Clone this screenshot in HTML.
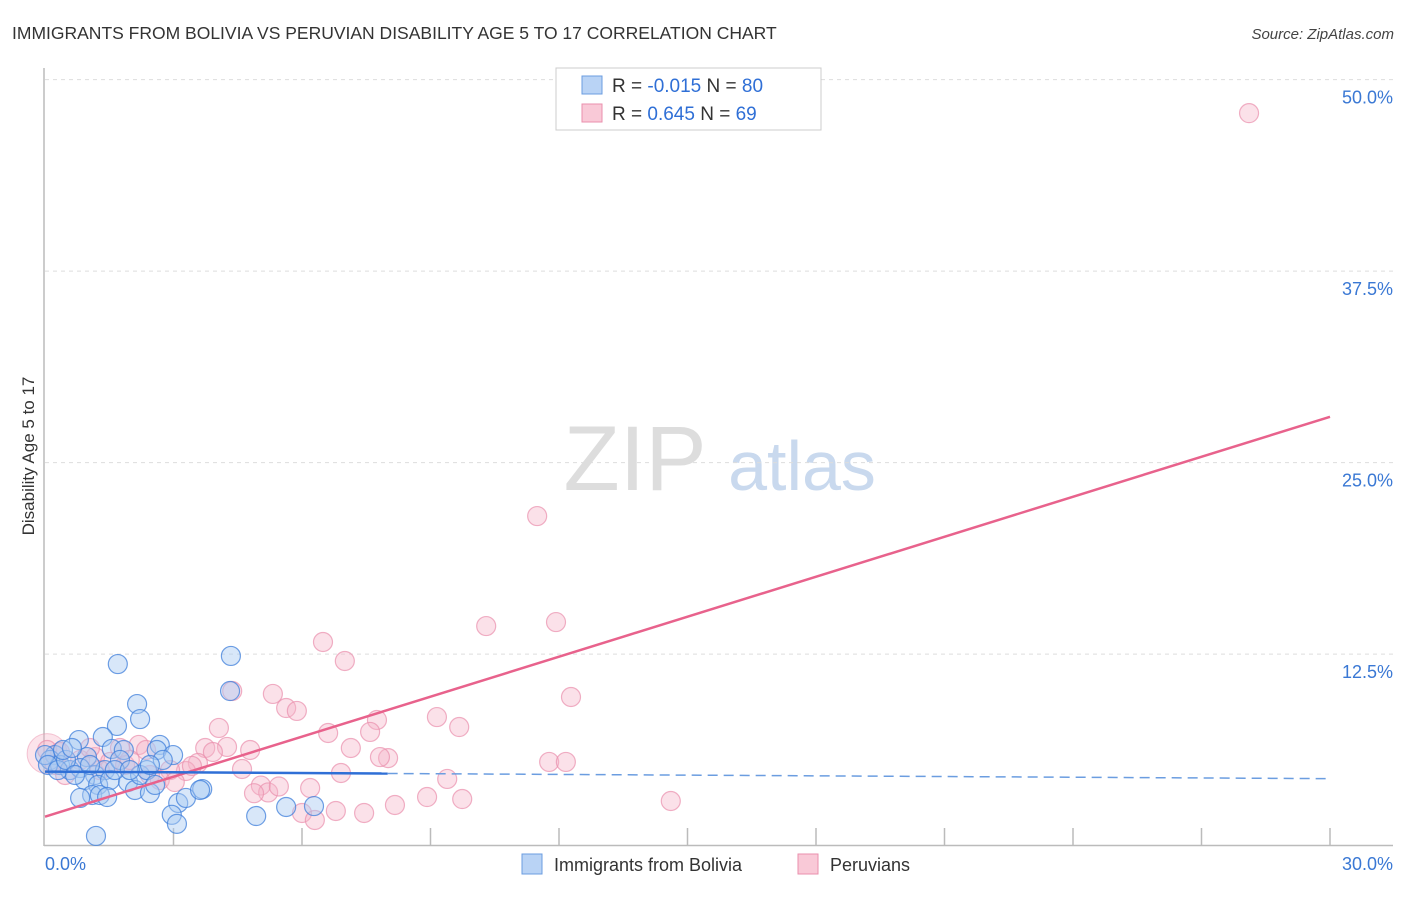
<!DOCTYPE html>
<html><head><meta charset="utf-8"><style>
body{margin:0;background:#fff;font-family:"Liberation Sans",sans-serif;}
svg text{font-family:"Liberation Sans",sans-serif;}
</style></head><body>
<svg id="chart" width="1406" height="892" viewBox="0 0 1406 892" xmlns="http://www.w3.org/2000/svg">
<text x="12" y="39" font-size="17.5" fill="#333">IMMIGRANTS FROM BOLIVIA VS PERUVIAN DISABILITY AGE 5 TO 17 CORRELATION CHART</text>
<text x="1394" y="39" font-size="15" fill="#444" font-style="italic" text-anchor="end">Source: ZipAtlas.com</text>
<g>
<text x="635" y="490" font-size="92" fill="#ddd" font-family="Liberation Serif" text-anchor="middle">ZIP</text>
<text x="802" y="490" font-size="70" fill="#c9d9ee" text-anchor="middle">atlas</text>
</g>
<g id="grid"></g>
<g id="axes"></g>
<g id="points"></g>
<g id="trends"></g>
<text transform="translate(34,456) rotate(-90)" font-size="17" fill="#333" text-anchor="middle">Disability Age 5 to 17</text>
<g>
<rect x="556" y="68" width="265" height="62" fill="#fff" stroke="#ccc"/>
<rect x="582" y="76" width="20" height="18" fill="#b9d3f5" stroke="#6b9de0"/>
<rect x="582" y="104" width="20" height="18" fill="#f9c9d7" stroke="#ea8fac"/>
<text x="612" y="92" font-size="19" fill="#333">R = <tspan fill="#2f6fd6">-0.015</tspan>   N = <tspan fill="#2f6fd6">80</tspan></text>
<text x="612" y="120" font-size="19" fill="#333">R =  <tspan fill="#2f6fd6">0.645</tspan>   N = <tspan fill="#2f6fd6">69</tspan></text>
</g>
<g>
<rect x="522" y="854" width="20" height="20" fill="#b9d3f5" stroke="#6b9de0"/>
<text x="554" y="871" font-size="18" fill="#333">Immigrants from Bolivia</text>
<rect x="798" y="854" width="20" height="20" fill="#f9c9d7" stroke="#ea8fac"/>
<text x="830" y="871" font-size="18" fill="#333">Peruvians</text>
</g>
</svg>
<script>
const yTicks=[12.5,25,37.5,50];
const yTickLabels=["12.5%","25.0%","37.5%","50.0%"];
const xTicks=[0,3,6,9,12,15,18,21,24,27,30];
const xEndLabels=["0.0%","30.0%"];
const boliviaX=[1.70,4.34,4.32,2.15,2.22,1.68,1.35,0.79,1.56,1.84,2.68,2.61,2.99,0.98,0.23,0.12,0.35,0.58,0.82,1.17,1.40,0.93,1.24,1.52,1.94,2.10,1.10,0.82,1.28,1.45,2.45,3.11,3.29,3.67,2.96,3.08,4.93,5.63,6.28,1.19,0.00,0.07,0.30,0.49,0.70,1.75,2.22,2.38,2.75,1.63,1.05,1.98,2.57,0.42,0.63,2.45,3.62];
const boliviaY=[11.85,12.38,10.09,9.24,8.26,7.81,7.09,6.89,6.31,6.24,6.57,6.24,5.91,5.78,5.91,5.59,5.26,4.93,5.06,4.61,4.93,4.28,3.96,4.28,4.15,3.63,3.30,3.11,3.30,3.17,3.43,2.78,3.11,3.69,2.01,1.42,1.93,2.52,2.58,0.63,5.91,5.26,4.93,5.59,4.61,5.59,4.61,4.93,5.59,4.93,5.26,4.93,3.96,6.24,6.37,5.26,3.63];
const peruX=[28.11,11.49,10.30,11.93,6.49,7.00,12.28,4.37,5.32,5.63,5.88,9.15,9.67,7.75,4.06,6.61,7.59,7.14,8.01,7.82,3.74,4.25,4.79,3.92,2.19,2.36,11.77,12.16,6.91,9.39,4.60,3.57,3.29,3.43,2.92,5.04,5.21,5.46,4.88,6.19,6.00,6.30,6.79,7.45,8.17,8.92,9.74,14.61,0.05,0.35,0.82,1.17,1.52,1.87,2.45,2.68,3.03,1.28,0.47,0.23,1.05,1.75,1.98];
const peruY=[47.81,21.51,14.33,14.59,13.29,12.05,9.70,10.09,9.90,8.98,8.79,8.39,7.74,8.20,7.68,7.35,7.42,6.37,5.71,5.78,6.37,6.44,6.24,6.11,6.57,6.24,5.46,5.46,4.74,4.35,5.00,5.39,4.87,5.20,4.93,3.92,3.47,3.86,3.42,3.76,2.13,1.67,2.26,2.13,2.65,3.17,3.04,2.91,6.24,6.11,5.59,5.78,5.46,5.26,4.61,4.28,4.15,4.93,4.61,5.26,6.37,6.37,5.59];
const peruTrend=[1.89,27.99];
const boliviaTrend=[4.83,4.37];
const boliviaSolidEnd=8.0;

const NS="http://www.w3.org/2000/svg";
const X=v=>45+v/30*1285;
const Y=v=>845.6-v/12.5*191.5;
function mk(tag,attrs,parent){const e=document.createElementNS(NS,tag);for(const k in attrs)e.setAttribute(k,attrs[k]);parent.appendChild(e);return e;}
const grid=document.getElementById('grid'),axes=document.getElementById('axes'),pts=document.getElementById('points'),tr=document.getElementById('trends');
yTicks.forEach((t,i)=>{
 const l=mk('line',{x1:45,x2:1393,y1:Y(t),y2:Y(t),stroke:'#ddd','stroke-dasharray':'4,4'},grid);
 
 
 const tx=mk('text',{x:1393,y:Y(t)+24,'font-size':18,fill:'#3a78d4','text-anchor':'end'},grid);
 tx.textContent=yTickLabels[i];
 
 
});
const ya=mk('line',{x1:44,x2:44,y1:68,y2:846,stroke:'#bbb','stroke-width':1.5},axes);


const xa=mk('line',{x1:44,x2:1393,y1:845.5,y2:845.5,stroke:'#bbb','stroke-width':1.5},axes);


xTicks.forEach(t=>{
 if(t===0)return;
 const l=mk('line',{x1:X(t),x2:X(t),y1:828,y2:845,stroke:'#bbb','stroke-width':1.5},axes);
 
 
});
[[0,'start',45],[30,'end',1393]].forEach((d,i)=>{
 const tx=mk('text',{x:d[2],y:870,'font-size':18,fill:'#3a78d4','text-anchor':d[1]},axes);
 tx.textContent=xEndLabels[i];
 
 
});
// big point at origin
const big=mk('circle',{cx:X(0.05),cy:Y(6.0),r:20,fill:'#f5b3c7','fill-opacity':0.35,stroke:'#ea8fac','stroke-opacity':0.5},pts);


peruX.forEach((x,i)=>{
 const c=mk('circle',{cx:X(x),cy:Y(peruY[i]),r:9.5,fill:'#f5b3c7','fill-opacity':0.4,stroke:'#ea8fac','stroke-opacity':0.7,'stroke-width':1.2},pts);
 
 
});
boliviaX.forEach((x,i)=>{
 const c=mk('circle',{cx:X(x),cy:Y(boliviaY[i]),r:9.5,fill:'#a9c9f2','fill-opacity':0.45,stroke:'#3f7fdb','stroke-opacity':0.75,'stroke-width':1.2},pts);
 
 
});
const pl=mk('line',{x1:X(0),y1:Y(peruTrend[0]),x2:X(30),y2:Y(peruTrend[1]),stroke:'#e8628c','stroke-width':2.5},tr);


const bAt=x=>boliviaTrend[0]+(boliviaTrend[1]-boliviaTrend[0])*x/30;
const bl=mk('line',{x1:X(0),y1:Y(bAt(0)),x2:X(boliviaSolidEnd),y2:Y(bAt(boliviaSolidEnd)),stroke:'#2f6fd6','stroke-width':2.5},tr);


const bd=mk('line',{x1:X(boliviaSolidEnd),y1:Y(bAt(boliviaSolidEnd)),x2:X(30),y2:Y(bAt(30)),stroke:'#6b9de0','stroke-width':1.5,'stroke-dasharray':'10,6'},tr);


</script>
</body></html>
